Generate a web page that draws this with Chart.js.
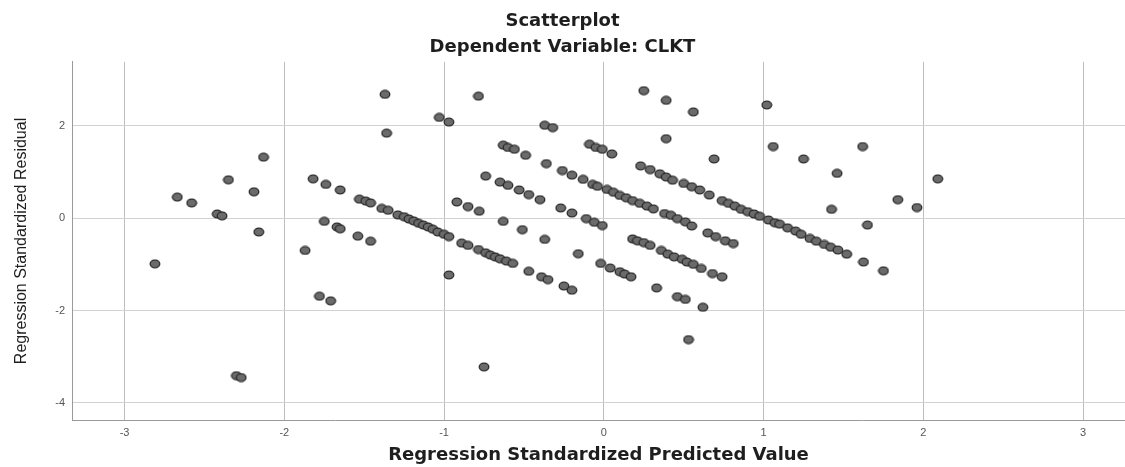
<!DOCTYPE html>
<html>
<head>
<meta charset="utf-8">
<script src="https://cdn.jsdelivr.net/npm/chart.js@4"></script>
<style>
  html, body { margin: 0; padding: 0; background: #fff; overflow: hidden; }
  #wrap { width: 1125px; height: 467px; }
  canvas { display: block; }
</style>
</head>
<body>
<div id="wrap"><canvas id="scatter"></canvas></div>
<script>
const xTicks = [-3, -2, -1, 0, 1, 2, 3];
const yTicks = [-4, -2, 0, 2];

// Regression standardized predicted value (x) and residual (y)
const predicted = [
    -2.81, -2.67, -2.58, -2.42, -2.39, -2.35, -2.30, -2.27, -2.19, -2.16, -2.13,
    -1.87, -1.82, -1.78, -1.75, -1.74, -1.71, -1.67, -1.65, -1.65, -1.54, -1.53,
    -1.49, -1.46, -1.46, -1.39, -1.37, -1.36, -1.35, -1.29, -1.25, -1.22,
    -1.19, -1.16, -1.13, -1.10, -1.07, -1.04, -1.00, -0.97,
    -1.03, -0.97, -0.97,
    -0.92, -0.85, -0.78,
    -0.89, -0.85, -0.785, -0.74, -0.71, -0.68, -0.65, -0.61, -0.57,
    -0.785, -0.75, -0.74,
    -0.65, -0.60, -0.53, -0.47, -0.40,
    -0.63, -0.60, -0.56, -0.49,
    -0.63, -0.51, -0.47, -0.39, -0.35, -0.37, -0.32, -0.37, -0.36,
    -0.27, -0.20, -0.11, -0.06, -0.01,
    -0.26, -0.20, -0.13, -0.07, -0.04,
    -0.25, -0.20, -0.16,
    -0.09, -0.05, -0.01, 0.05,
    -0.02, 0.04, 0.10, 0.13, 0.17,
    0.02, 0.06, 0.10, 0.14, 0.18, 0.225, 0.27, 0.31, 0.38, 0.42, 0.46, 0.51, 0.55,
    0.18, 0.21, 0.25, 0.29, 0.36, 0.40, 0.44, 0.49, 0.52, 0.56, 0.61,
    0.23, 0.29, 0.35, 0.39, 0.43, 0.50, 0.55, 0.60, 0.66,
    0.25, 0.33, 0.39, 0.39, 0.46, 0.51, 0.53, 0.56, 0.62,
    0.65, 0.70, 0.76, 0.81, 0.68, 0.74, 0.69,
    0.74, 0.78, 0.82, 0.86, 0.90, 0.94, 0.975, 1.03, 1.07, 1.10, 1.15, 1.20,
    1.235, 1.29, 1.33, 1.38, 1.42, 1.465, 1.52,
    1.02, 1.06, 1.25, 1.425, 1.46, 1.62, 1.625, 1.65, 1.75, 1.84, 1.96, 2.09
];
const residual = [
    -0.99, 0.455, 0.33, 0.09, 0.05, 0.83, -3.41, -3.45, 0.57, -0.30, 1.32,
    -0.70, 0.85, -1.69, -0.07, 0.73, -1.79, -0.19, 0.61, -0.23, -0.39, 0.41,
    0.37, 0.33, -0.50, 0.21, 2.68, 1.84, 0.17, 0.07, 0.03, -0.02,
    -0.06, -0.11, -0.15, -0.19, -0.24, -0.30, -0.35, -0.40,
    2.18, 2.08, -1.23,
    0.35, 0.25, 0.15,
    -0.54, -0.59, -0.68, -0.75, -0.80, -0.84, -0.88, -0.93, -0.98,
    2.64, -3.22, 0.91,
    0.78, 0.71, 0.61, 0.51, 0.40,
    1.58, 1.53, 1.49, 1.36,
    -0.07, -0.25, -1.15, -1.27, -1.33, 2.01, 1.96, -0.46, 1.18,
    0.22, 0.11, -0.01, -0.09, -0.16,
    1.03, 0.93, 0.84, 0.73, 0.69,
    -1.47, -1.56, -0.77,
    1.60, 1.53, 1.49, 1.39,
    -0.98, -1.08, -1.16, -1.21, -1.27,
    0.62, 0.56, 0.49, 0.44, 0.38, 0.32, 0.26, 0.20, 0.10, 0.06, -0.01, -0.08, -0.17,
    -0.45, -0.49, -0.53, -0.59, -0.70, -0.78, -0.84, -0.89, -0.95, -1.00, -1.09,
    1.13, 1.05, 0.96, 0.89, 0.82, 0.75, 0.68, 0.61, 0.50,
    2.76, -1.51, 2.55, 1.72, -1.70, -1.76, -2.63, 2.30, -1.93,
    -0.32, -0.40, -0.49, -0.55, -1.20, -1.27, 1.28,
    0.38, 0.32, 0.26, 0.19, 0.14, 0.09, 0.04, -0.04, -0.10, -0.13, -0.21, -0.28,
    -0.35, -0.44, -0.50, -0.57, -0.63, -0.69, -0.78,
    2.45, 1.55, 1.28, 0.19, 0.97, 1.55, -0.95, -0.15, -1.14, 0.40, 0.23, 0.85
];

const points = predicted.map((x, i) => ({ x: x, y: residual[i] }));

// small grey ellipse marker like the SPSS output
const marker = document.createElement("canvas");
marker.width = 12;
marker.height = 10;
const mctx = marker.getContext("2d");
mctx.beginPath();
mctx.ellipse(6, 5, 4.8, 3.8, 0, 0, Math.PI * 2);
mctx.fillStyle = "#6b6b6b";
mctx.fill();
mctx.lineWidth = 1.3;
mctx.strokeStyle = "#2a2a2a";
mctx.stroke();

const tickFont = { family: "Liberation Sans, Arial, sans-serif", size: 11 };

new Chart(document.getElementById("scatter"), {
    type: "scatter",
    data: {
        datasets: [{
            data: points,
            pointStyle: marker,
            pointRadius: 5
        }]
    },
    options: {
        responsive: true,
        maintainAspectRatio: false,
        animation: false,
        events: [],
        // no room kept for the markers: the plot runs to the picture's right edge
        layout: { padding: 0, autoPadding: false },
        plugins: {
            legend: { display: false },
            tooltip: { enabled: false },
            title: {
                display: true,
                text: ["Scatterplot", "Dependent Variable: CLKT"],
                color: "#1e1e1e",
                font: { family: "DejaVu Sans", size: 18, weight: "bold", lineHeight: 1.444 },
                padding: { top: 8, bottom: 2 }
            }
        },
        scales: {
            x: {
                type: "linear",
                min: -3.329,
                max: 3.262,
                afterBuildTicks: s => { s.ticks = xTicks.map(v => ({ value: v })); },
                afterFit: s => { s.height = 47; },
                grid: { color: "#bdbdbd", drawTicks: false },
                border: { color: "#9a9a9a" },
                ticks: { color: "#555", font: tickFont, padding: 6 },
                title: {
                    display: true,
                    text: "Regression Standardized Predicted Value",
                    color: "#1e1e1e",
                    font: { family: "DejaVu Sans", size: 18, weight: "bold" },
                    padding: { top: 0, bottom: 1 }
                }
            },
            y: {
                type: "linear",
                min: -4.37,
                max: 3.38,
                afterBuildTicks: s => { s.ticks = yTicks.map(v => ({ value: v })); },
                afterFit: s => { s.width = 72; },
                grid: { color: "#d2d2d2", drawTicks: false },
                border: { color: "#9a9a9a" },
                ticks: { color: "#555", font: tickFont, padding: 7 },
                title: {
                    display: true,
                    text: "Regression Standardized Residual",
                    color: "#1e1e1e",
                    font: { family: "Liberation Sans", size: 16 },
                    padding: { top: 12, bottom: 0 }
                }
            }
        }
    }
});
</script>
</body>
</html>
